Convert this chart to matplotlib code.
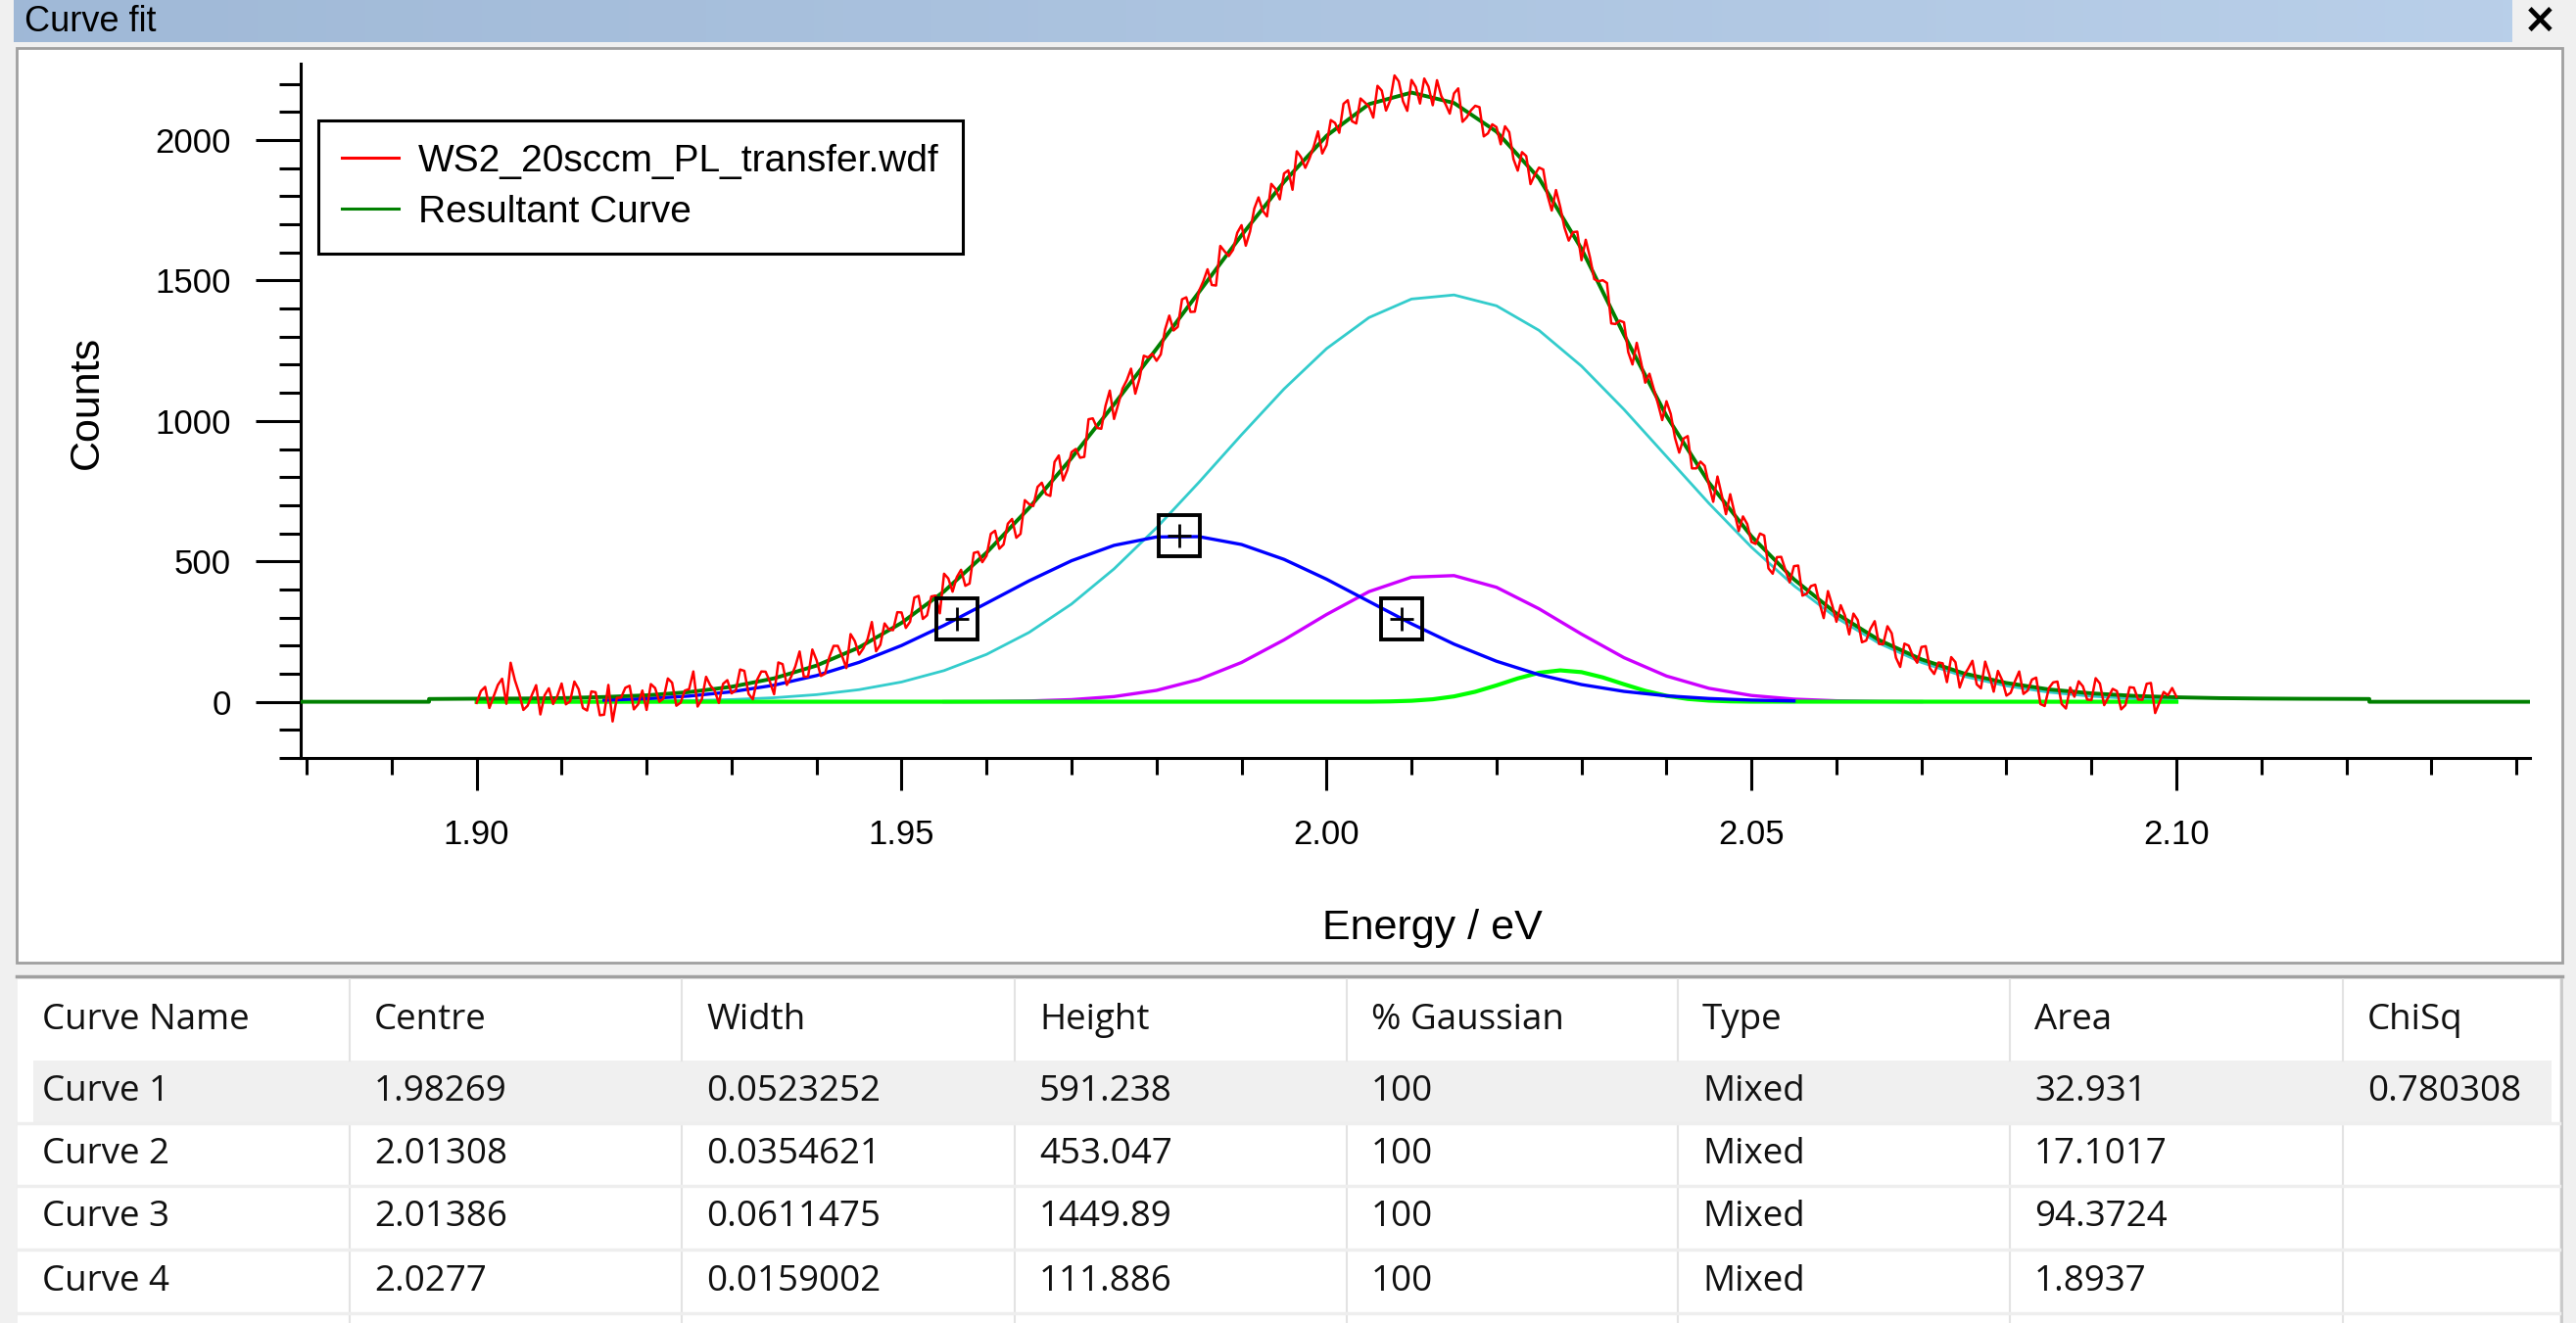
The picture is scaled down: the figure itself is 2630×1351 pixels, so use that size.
import matplotlib
matplotlib.use("Agg")
import matplotlib.pyplot as plt
import numpy as np
from matplotlib.patches import Rectangle
from matplotlib.lines import Line2D
from matplotlib.ticker import MultipleLocator, FormatStrFormatter

plt.rcParams['font.family'] = ['Liberation Sans', 'DejaVu Sans']

# ---- data ----
# measured PL spectrum 1.900 .. 2.100 eV, 0.5 meV steps
# counts at whole meV (1.900, 1.901, ...)
data_start, data_stop = 1.900, 2.100
counts_whole = [
    -4, 53, 19, 82, 139, 31, -14, 59, 23, -8,
    65, 2, 45, -31, 34, -46, -70, 15, 57, -9,
    -29, 49, 12, 68, -3, 45, -17, 89, 40, 64,
    30, 115, 28, 78, 107, 27, 134, 89, 179, 90,
    148, 100, 199, 163, 241, 168, 223, 180, 279, 255,
    318, 285, 377, 308, 378, 456, 392, 470, 421, 534,
    520, 609, 560, 651, 598, 704, 765, 739, 854, 788,
    889, 869, 1006, 975, 1054, 1007, 1115, 1186, 1151, 1226,
    1214, 1325, 1322, 1433, 1388, 1463, 1540, 1482, 1604, 1609,
    1697, 1674, 1796, 1728, 1826, 1881, 1823, 1939, 1935, 2031,
    1982, 2061, 2129, 2067, 2148, 2119, 2193, 2105, 2230, 2138,
    2214, 2130, 2190, 2213, 2128, 2166, 2065, 2106, 2117, 2024,
    2046, 2049, 1932, 1957, 1843, 1902, 1803, 1822, 1688, 1672,
    1572, 1582, 1497, 1491, 1345, 1351, 1201, 1210, 1168, 1061,
    1070, 940, 937, 831, 855, 772, 802, 668, 674, 660,
    569, 599, 475, 515, 469, 483, 378, 412, 352, 394,
    285, 307, 314, 212, 260, 206, 269, 157, 207, 162,
    195, 119, 140, 70, 141, 94, 146, 48, 96, 110,
    22, 73, 28, 79, -8, 49, 72, -24, 18, 55,
    6, 65, 17, 38, -12, 50, 7, 67, -3, 23,
    18]
# counts at the half meV points in between (1.9005, 1.9015, ...)
counts_half = [
    38, -22, 60, -7, 77, -29, 24, -45, 48, 21,
    -9, 72, -22, 37, -48, 60, 14, 50, -27, 40,
    63, 0, 83, -14, 40, 108, 9, 58, -4, 77,
    41, 110, 9, 108, 72, 140, 60, 126, 89, 186,
    92, 159, 199, 120, 216, 190, 284, 203, 258, 319,
    263, 371, 295, 375, 315, 439, 444, 413, 530, 497,
    598, 545, 634, 584, 718, 697, 780, 733, 877, 825,
    900, 872, 1009, 972, 1108, 1060, 1145, 1097, 1232, 1239,
    1237, 1375, 1335, 1440, 1389, 1497, 1484, 1623, 1587, 1670,
    1624, 1756, 1748, 1844, 1789, 1892, 1960, 1901, 1977, 1952,
    2071, 2026, 2142, 2059, 2134, 2080, 2176, 2142, 2209, 2104,
    2189, 2219, 2124, 2157, 2094, 2184, 2081, 2122, 2013, 2056,
    1985, 2028, 1891, 1943, 1876, 1895, 1749, 1762, 1642, 1674,
    1645, 1505, 1501, 1347, 1357, 1245, 1278, 1136, 1114, 1003,
    1025, 887, 946, 831, 840, 712, 736, 739, 608, 633,
    562, 592, 456, 516, 425, 485, 385, 417, 298, 344,
    344, 240, 291, 218, 287, 205, 244, 124, 200, 139,
    198, 99, 137, 159, 51, 118, 62, 143, 36, 77,
    32, 108, 40, 86, -15, 69, -8, 51, 73, 8,
    84, -12, 46, -27, 52, 8, 64, -40, 35, 49]

# resultant curve (dark green)
res_mid = [11, 11.5, 13, 17, 23, 34.5, 53.5, 83.5, 129, 193.5,
           281, 393, 531, 690, 868, 1059, 1257, 1459, 1661, 1851,
           2015, 2128, 2169, 2132, 2030, 1864, 1613, 1307, 1018, 780,
           589, 436, 314, 220, 151, 101, 67, 44, 30, 21, 16]
res_left_e = [1.8794, 1.8944, 1.8944]
res_left_c = [0, 0, 10]
res_right_e = [2.105, 2.110, 2.115, 2.120, 2.1227, 2.1227, 2.1416]
res_right_c = [13, 11.5, 10.7, 10.3, 10, 0, 0]

# fitted components
c1_range = (1.915, 2.055)
c1_counts = [5.7, 11.1, 20.3, 35.6, 59.1, 93.4, 140.4, 200.4, 272.0, 351.0,
             430.6, 502.2, 556.9, 586.9, 588.0, 560.0, 507.1, 436.5, 357.2, 277.8,
             205.4, 144.4, 96.5, 61.3, 37.0, 21.2, 11.6, 6.0, 3.0]
c2_range = (1.955, 2.070)
c2_counts = [0.3, 0.9, 2.8, 7.6, 18.5, 40.6, 79.6, 140.0, 220.4, 310.7,
             392.3, 443.6, 449.3, 407.6, 331.2, 241.0, 157.1, 91.7, 47.9, 22.4,
             9.4, 3.5, 1.2, 0.4]
c3_range = (1.910, 2.100)
c3_counts = [0.5, 1.0, 2.1, 4.2, 7.9, 14.4, 25.4, 43.1, 70.5, 111.1,
             168.8, 246.9, 348.1, 473.2, 619.6, 781.8, 950.7, 1113.7, 1257.3, 1368.0,
             1434.0, 1448.5, 1409.9, 1322.5, 1195.2, 1040.9, 873.6, 706.4, 550.4, 413.4,
             299.1, 208.5, 140.1, 90.7, 56.6, 34.0, 19.7, 11.0, 5.9]
c4_range = (2.005, 2.050)
c4_counts = [0.4, 1.3, 3.6, 8.9, 19.1, 35.7, 58.4, 83.2, 103.3, 111.9,
             105.6, 86.9, 62.4, 39.0, 21.3, 10.1, 4.2, 1.5, 0.5]
c4_ends = (1.900, 2.100)

# peak handles on curve 1
handle_e = [1.95653, 1.98269, 2.00885]
handle_c = [295.6, 591.2, 295.6]

legend_labels = ['WS2_20sccm_PL_transfer.wdf', 'Resultant Curve']

# results table
table_cols = ['Curve Name', 'Centre', 'Width', 'Height', '% Gaussian', 'Type', 'Area', 'ChiSq']
curve_names = ['Curve 1', 'Curve 2', 'Curve 3', 'Curve 4']
centres = ['1.98269', '2.01308', '2.01386', '2.0277']
widths = ['0.0523252', '0.0354621', '0.0611475', '0.0159002']
heights = ['591.238', '453.047', '1449.89', '111.886']
pct_gauss = ['100', '100', '100', '100']
types = ['Mixed', 'Mixed', 'Mixed', 'Mixed']
areas = ['32.931', '17.1017', '94.3724', '1.8937']
chisq = ['0.780308', '', '', '']

# ---- layout (pixels of a 2630x1351 picture) ----
W, H = 2630, 1351
fig = plt.figure(figsize=(W / 100, H / 100), dpi=100, facecolor='#f0f0f0')


def box(x0, y0, x1, y1, **kw):
    fig.patches.append(Rectangle((x0 / W, 1 - y1 / H), (x1 - x0) / W, (y1 - y0) / H,
                                 transform=fig.transFigure, zorder=-2, **kw))


def hline(y, x0, x1, color, lw):
    fig.add_artist(Line2D([x0 / W, x1 / W], [1 - y / H, 1 - y / H], color=color,
                          lw=lw, transform=fig.transFigure, zorder=-1))


def vline(x, y0, y1, color, lw):
    fig.add_artist(Line2D([x / W, x / W], [1 - y0 / H, 1 - y1 / H], color=color,
                          lw=lw, transform=fig.transFigure, zorder=-1))


# title bar with gradient
tb = fig.add_axes([14 / W, 1 - 43 / H, (2565 - 14) / W, 43 / H])
left_c = np.array([0.627, 0.725, 0.843])
right_c = np.array([0.725, 0.812, 0.914])
t = np.linspace(0, 1, 256)[None, :, None]
tb.imshow(left_c + (right_c - left_c) * t, aspect='auto', extent=(0, 1, 0, 1))
tb.set_axis_off()
fig.text(25 / W, 1 - 22 / H, 'Curve fit', va='center', ha='left', fontsize=26)
fig.text(2593 / W, 1 - 21 / H, '\u00d7', va='center', ha='center', fontsize=30,
         fontweight='bold', family='DejaVu Sans')

# chart panel
box(17, 49, 2616, 983, facecolor='white', edgecolor='#a0a0a0', lw=2)
hline(997, 17, 2616, '#a0a0a0', 2.5)

# table panel
box(18, 1000, 2613, 1351, facecolor='white', edgecolor='none')
vline(2615, 1000, 1351, '#c8c8c8', 2)
col_x = [18, 357, 696, 1036, 1375, 1713, 2052, 2392]
row_top = [1000, 1083, 1147, 1211, 1276, 1341]
box(34, 1083, 2605, 1147, facecolor='#f0f0f0', edgecolor='none')
for x in col_x[1:]:
    vline(x, 1000, 1083, '#e3e3e3', 1.5)
    vline(x, 1147, 1351, '#e3e3e3', 1.5)
for y in row_top[2:]:
    hline(y, 18, 2613, '#eeeeee', 2.5)

tfont = dict(family=['Open Sans', 'DejaVu Sans'], fontsize=26.5, va='center', ha='left',
             color='#111111')
for j, name in enumerate(table_cols):
    fig.text((col_x[j] + 25) / W, 1 - 1042 / H, name, **tfont)
columns = [curve_names, centres, widths, heights, pct_gauss, types, areas, chisq]
for i in range(len(curve_names)):
    yc = (row_top[i + 1] + row_top[i + 2]) / 2
    for j, col in enumerate(columns):
        fig.text((col_x[j] + 25) / W, 1 - yc / H, col[i], **tfont)

# ---- the chart ----
ax = fig.add_axes([307 / W, 1 - 774 / H, (2583 - 307) / W, (774 - 65) / H])
ax.set_facecolor('none')
ax.set_zorder(3)

data_counts = np.empty(len(counts_whole) + len(counts_half))
data_counts[0::2] = counts_whole
data_counts[1::2] = counts_half
e_data = np.linspace(data_start, data_stop, len(data_counts))
e_res = res_left_e + list(np.linspace(1.900, 2.100, len(res_mid))) + res_right_e
c_res = res_left_c + res_mid + res_right_c

ax.plot(np.linspace(*c3_range, len(c3_counts)), c3_counts, color='#33cccc', lw=2.0, zorder=2)
ax.plot(np.linspace(*c2_range, len(c2_counts)), c2_counts, color='#cc00ff', lw=2.4, zorder=3)
ax.plot([c4_ends[0]] + list(np.linspace(*c4_range, len(c4_counts))) + [c4_ends[1]],
        [0] + c4_counts + [0], color='#00ff00', lw=3.0, zorder=3)
ax.plot(np.linspace(*c1_range, len(c1_counts)), c1_counts, color='#0000ff', lw=2.4, zorder=4)
ax.plot(e_res, c_res, color='#008000', lw=2.8, zorder=5)
ax.plot(e_data, data_counts, color='#ff0000', lw=1.8, zorder=6)
ax.plot(handle_e, handle_c, ls='none', marker='s', ms=30, mfc='none', mec='black',
        mew=2.8, zorder=7)
ax.plot(handle_e, handle_c, ls='none', marker='+', ms=17, mec='black', mew=2.0, zorder=7)

ax.set_xlim(1.8793, 2.1416)
ax.set_ylim(-200, 2272)
for s in ['top', 'right']:
    ax.spines[s].set_visible(False)
for s in ['left', 'bottom']:
    ax.spines[s].set_linewidth(2.2)
ax.xaxis.set_major_locator(MultipleLocator(0.05))
ax.xaxis.set_minor_locator(MultipleLocator(0.01))
ax.xaxis.set_major_formatter(FormatStrFormatter('%.2f'))
ax.yaxis.set_major_locator(MultipleLocator(500))
ax.yaxis.set_minor_locator(MultipleLocator(100))
ax.tick_params(axis='y', which='major', length=33, width=2.2, pad=18, labelsize=25)
ax.tick_params(axis='y', which='minor', length=16, width=2.2)
ax.tick_params(axis='x', which='major', length=24, width=2.2, pad=21, labelsize=25)
ax.tick_params(axis='x', which='minor', length=12, width=2.2)

fig.text(1462 / W, 1 - 948 / H, 'Energy / eV', ha='center', va='center', fontsize=31)
fig.text(89 / W, 1 - 411 / H, 'Counts', ha='center', va='center', rotation=90, fontsize=31)

handles = [Line2D([], [], color='#ff0000', lw=2.2), Line2D([], [], color='#008000', lw=2.2)]
leg = ax.legend(handles, legend_labels, loc='upper left',
                bbox_to_anchor=(325 / W, 1 - 123 / H), bbox_transform=fig.transFigure,
                borderaxespad=0, fancybox=False, edgecolor='black', framealpha=1,
                fontsize=28, handlelength=1.5, handletextpad=0.5, borderpad=0.62,
                labelspacing=0.4)
leg.get_frame().set_linewidth(2.2)

fig.savefig('out.png', dpi=100, facecolor=fig.get_facecolor())
